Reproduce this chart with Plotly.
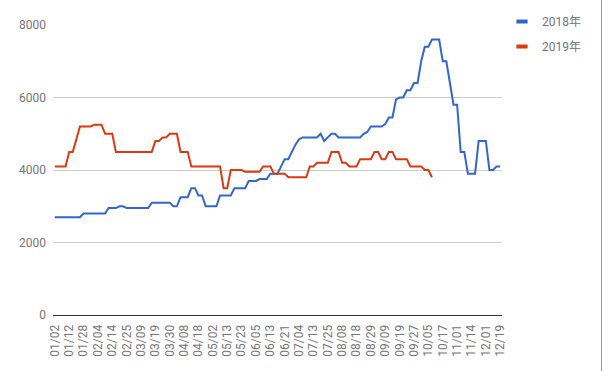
import plotly.graph_objects as go

tick_labels = ["01/02", "01/12", "01/28", "02/04", "02/14", "02/25", "03/09", "03/19",
               "03/30", "04/08", "04/18", "05/02", "05/13", "05/23", "06/05", "06/13",
               "06/21", "07/04", "07/13", "07/25", "08/08", "08/18", "08/29", "09/09",
               "09/19", "09/27", "10/05", "10/17", "11/01", "11/14", "12/01", "12/19"]

series_2018 = ([2700]*8 + [2800]*7 + [2950]*3 + [3000]*2 + [2950]*7 + [3100]*6 +
               [3000]*2 + [3250]*3 + [3500]*2 + [3300]*2 + [3000]*4 + [3300]*4 +
               [3500]*4 + [3700]*3 + [3750]*3 + [3900]*3 + [4100] + [4300]*2 +
               [4500] + [4700] + [4850] + [4900]*5 + [5000] + [4800] + [4900] +
               [5000]*2 + [4900]*7 + [5000] + [5050] + [5200]*4 + [5270] +
               [5450]*2 + [5950] + [6000]*2 + [6200]*2 + [6400]*2 + [7000] +
               [7400]*2 + [7600]*3 + [7000]*2 + [6400] + [5800]*2 + [4500]*2 +
               [3900]*3 + [4800]*3 + [4000]*2 + [4100]*2)

series_2019 = ([4100]*4 + [4500]*2 + [4850] + [5200]*4 + [5250]*3 + [5000]*3 +
               [4500]*11 + [4800]*2 + [4900]*2 + [5000]*3 + [4500]*3 + [4100]*9 +
               [3500]*2 + [4000]*4 + [3950]*5 + [4100]*3 + [3900]*4 + [3800]*6 +
               [4100]*2 + [4200]*4 + [4500]*3 + [4200]*2 + [4100]*3 + [4300]*4 +
               [4500]*2 + [4300]*2 + [4500]*2 + [4300]*4 + [4100]*4 + [4000]*2 +
               [3800])

series_names = ["2018年", "2019年"]
colors = ["#3366cc", "#dc3912"]

n = len(series_2018)
x = list(range(n))
y2019 = series_2019 + [None] * (n - len(series_2019))
step = 4
tickvals = list(range(0, n, step))

fig = go.Figure()
for name, ys, c in zip(series_names, [series_2018, y2019], colors):
    fig.add_trace(go.Scatter(x=x, y=ys, mode="lines", name=name, showlegend=False,
                             line=dict(color=c, width=2), connectgaps=False,
                             hoverinfo="skip"))
    fig.add_trace(go.Scatter(x=[None], y=[None], mode="markers", name=name,
                             legendgroup=name,
                             marker=dict(symbol="line-ew", size=8, color=c,
                                         line=dict(color=c, width=4))))

font_family = "Roboto, 'Noto Sans CJK SC', Arial, sans-serif"
fig.update_layout(
    width=603, height=371,
    margin=dict(l=53, r=101, t=25, b=56, autoexpand=False),
    paper_bgcolor="white", plot_bgcolor="white",
    font=dict(family=font_family, size=12, color="#757575"),
    legend=dict(x=1.0, y=1.062, xanchor="left", yanchor="top",
                font=dict(size=12, color="#757575"), tracegroupgap=6,
                itemsizing="trace", bgcolor="rgba(0,0,0,0)"),
    xaxis=dict(range=[-0.5, n - 0.5], tickmode="array", tickvals=tickvals[:len(tick_labels)],
               ticktext=tick_labels, tickangle=-90, showgrid=False, zeroline=False,
               showline=True, linecolor="#333333", linewidth=1, ticks="", automargin=False,
               tickfont=dict(size=12, color="#757575"), ticklabelstandoff=4, fixedrange=True),
    yaxis=dict(range=[0, 8000], tickvals=[0, 2000, 4000, 6000, 8000], showgrid=True,
               gridcolor="#cccccc", gridwidth=1, zeroline=False, ticks="", automargin=False,
               tickfont=dict(size=12, color="#757575"), ticklabelstandoff=6, fixedrange=True),
    hovermode=False,
    shapes=[dict(type="line", xref="paper", yref="paper",
                 x0=(603 - 53 - 1.5) / 449, x1=(603 - 53 - 1.5) / 449, y0=-56 / 290, y1=1 + 25 / 290,
                 line=dict(color="#999999", width=1))],
)

fig.write_html("out.html", config={"displayModeBar": False},
               post_script="document.body.style.margin='0';document.body.style.padding='0';")
